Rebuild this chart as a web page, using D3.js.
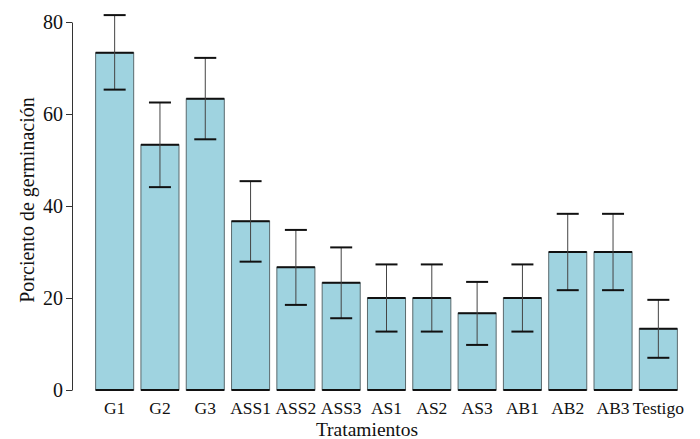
<!DOCTYPE html>
<html>
<head>
<meta charset="utf-8">
<script src="https://cdn.jsdelivr.net/npm/d3@7"></script>
<style>
  body { margin: 0; background: #fff; }
  svg { display: block; }
</style>
</head>
<body>
<svg id="chart" width="700" height="439"></svg>
<script>
const categories = ["G1","G2","G3","ASS1","ASS2","ASS3","AS1","AS2","AS3","AB1","AB2","AB3","Testigo"];
const means = [73.3, 53.3, 63.3, 36.7, 26.7, 23.3, 20.0, 20.0, 16.7, 20.0, 30.0, 30.0, 13.3];
const upper = [81.5, 62.5, 72.2, 45.4, 34.8, 31.0, 27.3, 27.3, 23.5, 27.3, 38.3, 38.3, 19.6];
const lower = [65.3, 44.1, 54.5, 27.9, 18.5, 15.6, 12.7, 12.7, 9.8, 12.7, 21.7, 21.7, 7.0];
const yTicks = [0, 20, 40, 60, 80];

const FONT = "'Liberation Serif', Tinos, 'Noto Serif', 'DejaVu Serif', 'Times New Roman', Times, serif";

const svg = d3.select("#chart");
const x = d3.scaleBand().domain(categories).range([92, 681]).paddingInner(0.16).paddingOuter(0.08);
const y = d3.scaleLinear().domain([0, 80]).range([390, 22]);

const data = categories.map((c, i) => ({c, m: means[i], hi: upper[i], lo: lower[i]}));

const g = svg.append("g");
g.selectAll("rect.bar").data(data).enter().append("rect")
  .attr("class", "bar")
  .attr("x", d => x(d.c))
  .attr("y", d => y(d.m))
  .attr("width", x.bandwidth())
  .attr("height", d => y(0) - y(d.m))
  .attr("fill", "#9fd3e0")
  .attr("stroke", "#5a6a6e")
  .attr("stroke-width", 1);
g.selectAll("line.top").data(data).enter().append("line")
  .attr("x1", d => x(d.c)).attr("x2", d => x(d.c) + x.bandwidth())
  .attr("y1", d => y(d.m)).attr("y2", d => y(d.m))
  .attr("stroke", "#111").attr("stroke-width", 2);
g.selectAll("line.bot").data(data).enter().append("line")
  .attr("x1", d => x(d.c)).attr("x2", d => x(d.c) + x.bandwidth())
  .attr("y1", y(0)).attr("y2", y(0))
  .attr("stroke", "#111").attr("stroke-width", 2);

const cap = 11;
const eb = svg.append("g");
eb.selectAll("line.v").data(data).enter().append("line")
  .attr("x1", d => x(d.c) + x.bandwidth()/2).attr("x2", d => x(d.c) + x.bandwidth()/2)
  .attr("y1", d => y(d.lo)).attr("y2", d => y(d.hi))
  .attr("stroke", "#444").attr("stroke-width", 1);
["hi","lo"].forEach(k => {
  eb.selectAll("line.c" + k).data(data).enter().append("line")
    .attr("x1", d => x(d.c) + x.bandwidth()/2 - cap).attr("x2", d => x(d.c) + x.bandwidth()/2 + cap)
    .attr("y1", d => y(d[k])).attr("y2", d => y(d[k]))
    .attr("stroke", "#111").attr("stroke-width", 2);
});

const yAxis = svg.append("g").attr("transform", "translate(72,0)")
  .call(d3.axisLeft(y).tickValues(yTicks).tickSize(6).tickPadding(3).tickSizeOuter(0));
yAxis.attr("font-family", FONT).attr("font-size", 20);
yAxis.select(".domain").attr("stroke", "#333");
yAxis.selectAll(".tick line").attr("stroke", "#333");
yAxis.selectAll("text").attr("fill", "#111");

const xAxis = svg.append("g").attr("transform", "translate(0,390)")
  .call(d3.axisBottom(x).tickSize(0).tickPadding(11.5));
xAxis.attr("font-family", FONT).attr("font-size", 17.5);
xAxis.select(".domain").remove();
xAxis.selectAll("text").attr("fill", "#111");

svg.append("text").attr("x", 367).attr("y", 435.5).attr("text-anchor", "middle")
  .attr("font-family", FONT).attr("font-size", 19.5).attr("fill", "#111").text("Tratamientos");
svg.append("text").attr("transform", "translate(34,200) rotate(-90)").attr("text-anchor", "middle")
  .attr("font-family", FONT).attr("font-size", 20).attr("fill", "#111").text("Porciento de germinación");
</script>
</body>
</html>
